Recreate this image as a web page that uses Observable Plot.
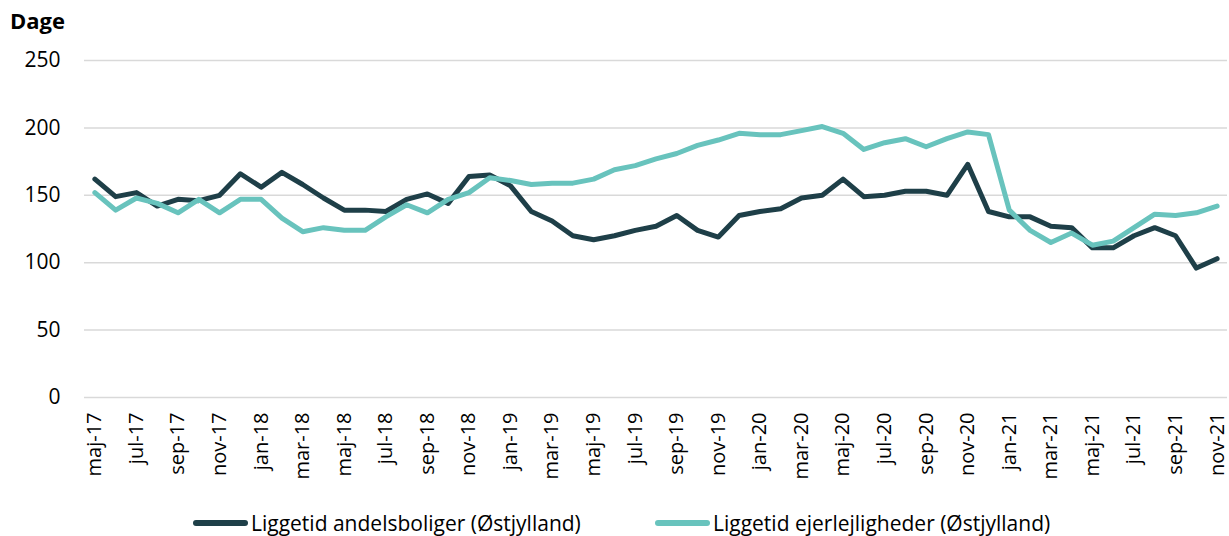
<!DOCTYPE html>
<html>
<head>
<meta charset="utf-8">
<script src="https://cdn.jsdelivr.net/npm/d3@7"></script>
<script src="https://cdn.jsdelivr.net/npm/@observablehq/plot@0.6"></script>
<style>
  body { margin: 0; background: #fff; font-family: "Open Sans", sans-serif; width: 1229px; height: 536px; overflow: hidden; }
  #title { height: 40px; position: relative; }
  #title span { position: absolute; left: 10px; top: 5px; font-weight: bold; font-size: 22px; color: #000; }
  #chart svg { display: block; }
  #legend { position: relative; height: 49px; }
  .item { position: absolute; top: 22px; display: flex; align-items: center; font-size: 21px; color: #000; line-height: 28px; }
  .sw { width: 55px; height: 6px; border-radius: 3px; margin-right: 3px; }
</style>
</head>
<body>
<div id="title"><span>Dage</span></div>
<div id="chart"></div>
<div id="legend"></div>
<script>
const months = ["maj-17","jun-17","jul-17","aug-17","sep-17","okt-17","nov-17","dec-17",
  "jan-18","feb-18","mar-18","apr-18","maj-18","jun-18","jul-18","aug-18","sep-18","okt-18","nov-18","dec-18",
  "jan-19","feb-19","mar-19","apr-19","maj-19","jun-19","jul-19","aug-19","sep-19","okt-19","nov-19","dec-19",
  "jan-20","feb-20","mar-20","apr-20","maj-20","jun-20","jul-20","aug-20","sep-20","okt-20","nov-20","dec-20",
  "jan-21","feb-21","mar-21","apr-21","maj-21","jun-21","jul-21","aug-21","sep-21","okt-21","nov-21"];
const tickMonths = months.filter((m, i) => i % 2 === 0);
const seriesNames = ["Liggetid andelsboliger (Østjylland)", "Liggetid ejerlejligheder (Østjylland)"];
const seriesColors = ["#1e3f48", "#68c3bd"];
const andelsboliger = [162,149,152,142,147,146,150,166,156,167,158,148,139,139,138,147,151,144,164,165,
  157,138,131,120,117,120,124,127,135,124,119,135,138,140,148,150,162,149,150,153,
  153,150,173,138,134,134,127,126,111,111,120,126,120,96,103];
const ejerlejligheder = [152,139,148,144,137,147,137,147,147,133,123,126,124,124,134,143,137,147,152,163,
  161,158,159,159,162,169,172,177,181,187,191,196,195,195,198,201,196,184,189,192,
  186,192,197,195,139,124,115,122,113,116,126,136,135,137,142];
const yTicks = [0, 50, 100, 150, 200, 250];

const data = [
  ...months.map((m, i) => ({ m, v: andelsboliger[i], s: seriesNames[0] })),
  ...months.map((m, i) => ({ m, v: ejerlejligheder[i], s: seriesNames[1] }))
];

const chart = Plot.plot({
  width: 1229,
  height: 447,
  marginLeft: 84,
  marginRight: 2,
  marginTop: 20,
  marginBottom: 90,
  style: { fontFamily: "Open Sans, sans-serif", fontSize: "21px", color: "#000", background: "#fff" },
  x: { type: "point", domain: months, padding: 0.5, label: null },
  y: { domain: [0, 250], label: null },
  color: { domain: seriesNames, range: seriesColors },
  marks: [
    Plot.gridY(yTicks, { stroke: "#d9d9d9", strokeOpacity: 1, strokeWidth: 1.5 }),
    Plot.axisY(yTicks, { tickSize: 0, tickPadding: 24, fontSize: 21, label: null }),
    Plot.axisX(tickMonths, { tickSize: 0, tickRotate: -90, tickPadding: 15, fontSize: 20, label: null }),
    Plot.lineY(data, { x: "m", y: "v", stroke: "s", strokeWidth: 5, strokeLinejoin: "round", strokeLinecap: "round" })
  ]
});
document.getElementById("chart").appendChild(chart);

const legend = document.getElementById("legend");
const lefts = [193, 655];
seriesNames.forEach((name, i) => {
  const it = document.createElement("div");
  it.className = "item";
  it.style.left = lefts[i] + "px";
  it.innerHTML = `<div class="sw" style="background:${seriesColors[i]}"></div><span>${name}</span>`;
  legend.appendChild(it);
});
</script>
</body>
</html>
